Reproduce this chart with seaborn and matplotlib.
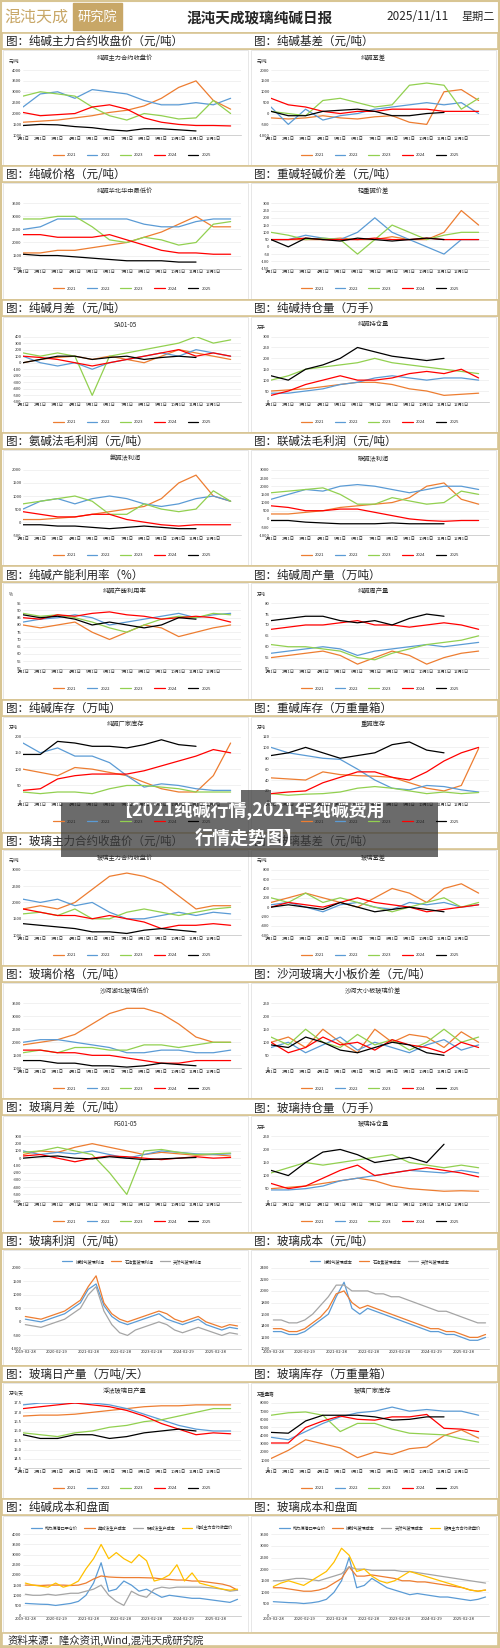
import numpy as np
import pandas as pd
import matplotlib
matplotlib.use("Agg")
import matplotlib.pyplot as plt
import seaborn as sns
from matplotlib.patches import Rectangle

sns.set_theme(style="white")
plt.rcParams['font.family'] = ['Noto Sans CJK SC', 'DejaVu Sans']
plt.rcParams['axes.unicode_minus'] = False

W, H = 500, 1648
fig = plt.figure(figsize=(W/100, H/100), dpi=100)
fig.patch.set_facecolor("white")
BEIGE = "#D8C593"
GOLD = "#C8A767"

YEARS = ["2021", "2022", "2023", "2024", "2025"]
YCOL = ["#ED7D31", "#5B9BD5", "#92D050", "#FF0000", "#000000"]
MONTHS = ["1月1日", "2月1日", "3月1日", "4月1日", "5月1日", "6月1日", "7月1日",
          "8月1日", "9月1日", "10月1日", "11月1日", "12月1日"]
DATE_TICKS = ["2019-02-28", "2020-02-29", "2021-02-28", "2022-02-28",
              "2023-02-28", "2024-02-29", "2025-02-28"]

# ---------------- data ----------------
sa_close = [[1600,1650,1700,1800,1900,2050,2150,2350,2700,3200,3500,2600,2200],
            [2300,2900,3000,2700,3100,3000,2900,2600,2400,2400,2500,2400,2700],
            [2800,3000,2900,2800,2300,1900,1700,2000,1900,1750,1800,2600,2000],
            [2050,1900,1950,2000,2300,2400,2200,1800,1600,1500,1450,1450,1430],
            [1450,1500,1480,1400,1350,1250,1200,1300,1300,1250,1200]]
sa_basis = [[-200,-250,-200,-100,-200,-250,-150,-100,-400,-500,1000,1100,600],
            [300,-500,200,-300,-100,0,200,300,400,500,400,500,0],
            [100,0,-100,600,700,500,300,400,1300,1400,1300,200,700],
            [700,400,300,100,0,100,100,200,200,200,100,100,100],
            [100,-100,-100,100,150,200,100,-100,-100,0,50]]
sa_spot = [[1600,1600,1700,1700,1800,1900,2000,2200,2400,2700,3000,2600,2600],
           [2500,2600,2900,2900,2900,2900,2900,2700,2600,2600,2800,2900,2900],
           [2900,2900,3000,3000,2600,2100,2000,2200,2100,1900,2000,2700,2800],
           [2300,2300,2200,2200,2200,2300,2100,1900,1700,1600,1600,1550,1550],
           [1550,1500,1500,1450,1400,1350,1300,1300,1300,1250,1250]]
sa_heavy_light = [[50,50,50,50,60,50,50,70,50,50,100,250,150],
                  [50,50,80,60,50,100,200,100,50,0,-50,50,50],
                  [100,80,50,60,50,-50,50,150,100,50,80,100,100],
                  [50,50,60,50,50,50,60,50,50,60,50,50,50],
                  [50,0,60,50,40,60,50,40,50,60,50]]
sa_spread = [[0,50,80,100,50,100,50,0,100,200,150,100,50],
             [100,0,-50,0,-100,0,50,100,150,100,200,150,100],
             [150,100,150,100,-500,100,150,200,250,300,400,300,350],
             [100,80,50,0,-50,0,50,100,150,200,100,150,100],
             [0,50,100,100,50,80,100,50,80,100,80]]
sa_oi = [[50,55,60,70,80,90,90,80,60,50,30,35,40],
         [40,40,50,60,80,90,110,120,110,100,110,110,100],
         [100,120,150,160,170,180,200,180,170,160,150,140,130],
         [30,50,80,100,120,100,100,110,130,140,130,150,110],
         [120,100,150,170,200,250,230,210,200,190,200]]
sa_ammonia_profit = [[100,100,150,200,300,400,500,600,900,1500,1800,1000,800],
                     [500,800,900,700,900,1000,900,700,600,700,900,1000,800],
                     [700,800,900,1000,800,300,300,700,500,400,500,1200,800],
                     [400,300,200,200,300,300,100,0,-100,-150,-100,-100,-100],
                     [-100,-100,-150,-150,-200,-250,-200,-150,-200,-250,-250]]
sa_joint_profit = [[300,300,400,500,700,800,900,1000,1300,2000,2200,1200,900],
                   [1200,1500,1800,1700,2000,2100,2000,1800,1600,1800,2000,2000,1800],
                   [1600,1700,1800,1900,1500,900,900,1300,1100,900,1000,1700,1500],
                   [800,700,500,500,600,600,400,200,0,-100,-150,-100,-100],
                   [-100,-100,-200,-250,-300,-300,-300,-250,-300,-300,-300]]
sa_util = [[80,78,80,82,75,70,75,80,78,72,75,78,80],
           [82,84,85,87,85,80,82,84,86,88,85,87,88],
           [88,86,87,85,82,78,75,80,84,86,85,88,87],
           [85,84,87,86,88,89,87,86,84,85,86,85,82],
           [87,85,86,84,80,82,80,78,80,85,84]]
sa_output = [[55,56,57,58,56,52,55,58,56,52,55,57,58],
             [57,58,59,60,59,56,58,59,60,61,60,61,62],
             [61,60,60,59,58,55,54,57,59,61,62,63,65],
             [68,69,70,70,71,72,70,70,69,70,71,70,68],
             [72,73,74,74,72,71,72,70,73,75,74]]
sa_stock = [[100,90,80,105,100,90,80,60,40,30,30,80,180],
            [180,150,165,140,140,120,80,45,55,50,40,35,35],
            [30,25,30,30,25,40,50,50,45,40,30,30,30],
            [35,40,70,80,85,85,85,95,110,125,140,160,150],
            [145,145,185,180,170,170,165,175,190,175,170]]
sa_heavy_stock = [[44,42,40,55,50,48,47,45,35,25,20,30,98],
                  [100,90,85,80,78,60,40,25,22,30,28,22,18],
                  [15,12,14,15,18,25,28,25,20,15,18,15,17],
                  [15,18,20,35,45,55,55,45,40,55,75,90,100],
                  [85,90,100,90,80,85,90,105,110,95,90]]
fg_close = [[1800,1900,1800,2000,2400,2800,2900,2800,2600,2200,1800,1900,1900],
            [2100,2000,2100,1900,2000,1700,1500,1500,1600,1700,1600,1700,1650],
            [1650,1700,1600,1800,1500,1500,1700,1800,1700,1600,1700,1800,1850],
            [1800,1700,1600,1600,1500,1600,1500,1400,1200,1300,1300,1350,1300],
            [1350,1300,1250,1200,1100,1100,1050,1150,1200,1150,1100]]
fg_basis = [[100,200,300,200,100,0,200,400,300,100,400,500,300],
            [50,100,0,-100,50,100,0,-50,100,50,100,0,50],
            [200,100,300,100,200,100,0,-100,0,100,200,0,100],
            [0,100,50,0,100,200,100,50,0,-100,-50,0,50],
            [0,50,0,-50,100,0,-100,-50,0,-50,-100]]
fg_spot = [[1900,2000,2100,2300,2700,3100,3300,3300,3100,2700,2200,2000,2000],
           [2000,2100,2100,2000,1900,1800,1600,1600,1700,1700,1600,1600,1700],
           [1600,1700,1600,1800,1800,1700,1700,1900,1900,1800,1900,2000,2000],
           [1700,1700,1600,1600,1500,1500,1400,1300,1200,1200,1300,1300,1300],
           [1300,1300,1200,1200,1100,1100,1050,1100,1200,1150,1100]]
fg_board = [[100,120,80,150,100,60,150,100,130,120,80,140,100],
            [80,100,60,90,120,70,100,80,60,90,110,70,90],
            [120,90,150,100,80,130,90,110,70,100,150,100,120],
            [100,60,80,120,90,100,70,110,90,80,60,100,80],
            [90,80,120,100,70,60,80,100,90,60,50]]
fg_spread = [[50,100,80,150,200,150,100,50,80,60,40,50,30],
             [100,50,80,60,100,50,0,50,100,80,60,50,60],
             [80,100,150,100,50,-200,-500,100,120,80,50,60,70],
             [30,50,0,-50,0,30,20,0,-20,0,20,0,10],
             [0,20,30,0,-10,20,0,-20,-10,0,10]]
fg_oi = [[50,55,60,70,80,90,80,60,50,45,40,42,40],
         [45,45,50,60,80,90,100,110,120,115,110,120,110],
         [110,130,150,140,150,160,170,180,150,140,130,140,130],
         [70,50,60,90,120,140,100,110,120,130,120,110,95],
         [120,100,150,190,200,180,150,160,170,150,220]]
fg_daily = [[16.8,16.85,16.85,16.9,17.0,17.1,17.2,17.3,17.35,17.35,17.4,17.4,17.4],
            [17.4,17.5,17.5,17.5,17.5,17.4,17.2,16.9,16.6,16.3,16.1,16.0,16.0],
            [15.9,15.8,15.7,15.9,16.0,16.2,16.3,16.5,16.6,16.8,17.0,17.2,17.2],
            [17.2,17.3,17.4,17.5,17.4,17.3,17.1,16.8,16.4,16.1,15.8,15.9,15.85],
            [15.8,15.6,15.6,15.8,15.8,15.6,15.7,15.9,16.0,16.1,16.0]]
fg_stock = [[1200,2200,3500,3000,2500,1300,2000,1700,2400,2600,4000,4700,3700],
            [3800,3500,4500,5500,6300,6800,7000,7500,7000,7200,7000,7000,6500],
            [6500,6800,6900,6500,4500,5500,5500,4800,4300,4200,4100,3600,3200],
            [3100,3100,5000,5800,6400,6000,5900,6300,6300,6600,4900,4800,4500],
            [4400,4300,5800,6500,6500,6500,6300,5900,6000,6300,6300]]

profit_names = ["煤制气玻璃利润", "石油焦玻璃利润", "天然气玻璃利润"]
fg_profit = [[100,50,0,100,200,300,500,700,1200,1400,600,200,0,-100,0,100,200,300,100,0,-100,0,100,-100,-200,-300,-200,-250],
             [200,150,100,200,300,400,600,800,1300,1700,700,300,100,0,100,200,300,400,300,100,0,100,200,0,-100,-200,-100,-150],
             [-100,-150,-200,-100,0,100,300,500,1000,1300,400,-100,-400,-500,-300,-200,-100,0,-100,-300,-400,-300,-200,-300,-400,-500,-400,-450]]
cost_names = ["煤制气玻璃成本", "石油焦玻璃成本", "天然气玻璃成本"]
fg_cost = [[1300,1300,1250,1250,1300,1400,1500,1600,1900,2150,1700,1600,1700,1650,1600,1550,1500,1450,1400,1350,1300,1300,1250,1250,1200,1150,1150,1200],
           [1350,1350,1300,1300,1350,1450,1550,1700,1950,2000,1800,1700,1750,1700,1650,1600,1550,1500,1450,1400,1350,1350,1300,1300,1250,1200,1200,1250],
           [1500,1500,1450,1450,1500,1600,1750,1900,2100,2100,2000,2000,2000,1950,1950,1900,1900,1850,1800,1750,1700,1650,1650,1600,1550,1500,1450,1450]]
TRI = ["#5B9BD5", "#ED7D31", "#A5A5A5"]
QUAD = ["#5B9BD5", "#ED7D31", "#A5A5A5", "#FFC000"]
sa_cost_names = ["动力煤港口平仓价", "氨碱法生产成本", "联碱法生产成本", "纯碱主力合约收盘价"]
sa_cost = [[600,580,560,550,500,550,600,700,1000,1600,2600,1200,1300,1700,1500,1200,1300,1100,900,1000,950,900,850,850,800,750,700,650,800],
           [1500,1500,1480,1500,1500,1500,1480,1500,1600,1800,1950,1900,1880,1870,1870,1870,1860,1850,1800,1780,1750,1750,1700,1700,1650,1600,1550,1450,1250],
           [1050,1000,1000,1050,1000,1050,1100,1100,1200,1300,1500,1000,700,500,1200,1000,900,1300,1400,1350,1400,1400,1400,1400,1380,1350,1300,1200,1250],
           [1600,1500,1450,1400,1600,1400,1500,1700,2300,2800,3500,2800,3100,2800,2600,3000,2700,1700,1800,2000,2500,1700,2100,1600,1500,1400,1300,1250,1300]]
fg_cost_names = ["动力煤港口平仓价", "煤制气玻璃成本", "天然气玻璃成本", "玻璃主力合约收盘价"]
fg_cost2 = [[600,580,560,550,520,550,600,700,1000,1500,2500,1200,1300,1600,1400,1200,1100,1000,900,950,900,850,800,800,750,700,650,700,800],
            [1200,1200,1150,1100,1050,1050,1100,1200,1400,1600,2100,1700,1700,1750,1700,1650,1600,1500,1500,1450,1450,1400,1350,1300,1250,1200,1100,1050,1100],
            [1500,1500,1550,1600,1600,1550,1500,1600,1700,1800,2100,2000,2000,1950,1950,1950,1950,1900,1900,1850,1800,1750,1700,1650,1600,1550,1500,1450,1400],
            [1250,1400,1500,1400,1300,1500,1700,1900,2300,2900,2600,1900,2000,1700,1500,1400,1500,1700,1900,1800,1700,1600,1500,1400,1300,1200,1100,1050,1100]]

panels = [
    ("图：纯碱主力合约收盘价（元/吨）", "纯碱主力合约收盘价", "元/吨", sa_close, (1000, 4000), range(1000, 4001, 500)),
    ("图：纯碱基差（元/吨）", "纯碱基差", "元/吨", sa_basis, (-1000, 2000), range(-1000, 2001, 500)),
    ("图：纯碱价格（元/吨）", "纯碱华北华中最低价", "", sa_spot, (1000, 3500), range(1000, 3501, 500)),
    ("图：重碱轻碱价差（元/吨）", "轻重碱价差", "", sa_heavy_light, (-150, 300), range(-150, 301, 50)),
    ("图：纯碱月差（元/吨）", "SA01-05", "", sa_spread, (-600, 400), range(-600, 401, 100)),
    ("图：纯碱持仓量（万手）", "纯碱持仓量", "万手", sa_oi, (0, 300), range(0, 301, 50)),
    ("图：氨碱法毛利润（元/吨）", "氨碱法利润", "", sa_ammonia_profit, (-500, 2000), range(-500, 2001, 500)),
    ("图：联碱法毛利润（元/吨）", "联碱法利润", "", sa_joint_profit, (-1000, 3000), range(-1000, 3001, 500)),
    ("图：纯碱产能利用率（%）", "纯碱产能利用率", "%", sa_util, (50, 95), range(50, 96, 5)),
    ("图：纯碱周产量（万吨）", "纯碱周产量", "万吨", sa_output, (50, 80), range(50, 81, 5)),
    ("图：纯碱库存（万吨）", "纯碱厂家库存", "万吨", sa_stock, (0, 200), range(0, 201, 50)),
    ("图：重碱库存（万重量箱）", "重碱库存", "万吨", sa_heavy_stock, (0, 120), range(0, 121, 20)),
    ("图：玻璃主力合约收盘价（元/吨）", "玻璃主力合约收盘价", "元/吨", fg_close, (1000, 3000), range(1000, 3001, 500)),
    ("图：玻璃基差（元/吨）", "玻璃基差", "元/吨", fg_basis, (-600, 800), range(-600, 801, 200)),
    ("图：玻璃价格（元/吨）", "沙河湖北玻璃低价", "", fg_spot, (1000, 3500), range(1000, 3501, 500)),
    ("图：沙河玻璃大小板价差（元/吨）", "沙河大小板玻璃价差", "", fg_board, (0, 250), range(0, 251, 50)),
    ("图：玻璃月差（元/吨）", "FG01-05", "", fg_spread, (-600, 300), range(-600, 301, 100)),
    ("图：玻璃持仓量（万手）", "玻璃持仓量", "万手", fg_oi, (0, 250), range(0, 251, 50)),
    ("图：玻璃利润（元/吨）", None, "", (profit_names, fg_profit, TRI), (-1000, 2000), range(-1000, 2001, 500)),
    ("图：玻璃成本（元/吨）", None, "", (cost_names, fg_cost, TRI), (1000, 2400), range(1000, 2401, 200)),
    ("图：玻璃日产量（万吨/天）", "浮法玻璃日产量", "万吨/天", fg_daily, (14, 17.5), [14, 14.5, 15, 15.5, 16, 16.5, 17, 17.5]),
    ("图：玻璃库存（万重量箱）", "玻璃厂家库存", "万重量箱", fg_stock, (0, 8000), range(0, 8001, 1000)),
    ("图：纯碱成本和盘面", None, "", (sa_cost_names, sa_cost, QUAD), (0, 4000), range(0, 4001, 500)),
    ("图：玻璃成本和盘面", None, "", (fg_cost_names, fg_cost2, QUAD), (0, 3500), range(0, 3501, 500)),
]

def fr(x, y, w, h):
    return [x / W, 1 - (y + h) / H, w / W, h / H]

bg = fig.add_axes([0, 0, 1, 1])
bg.set_xlim(0, W); bg.set_ylim(H, 0); bg.axis("off")
bg.add_patch(Rectangle((1, 1), W - 2, H - 2, fill=False, ec=BEIGE, lw=1.5))

bg.text(4, 17, "混沌天成", fontsize=11.5, color=GOLD, va="center")
bg.add_patch(Rectangle((73, 3), 49, 27, color=GOLD))
bg.text(97.5, 17, "研究院", fontsize=9.5, color="white", va="center", ha="center")
bg.text(260, 18, "混沌天成玻璃纯碱日报", fontsize=10.5, fontweight="bold", ha="center", va="center")
bg.text(418, 16, "2025/11/11", fontsize=8.5, ha="center", va="center")
bg.text(478, 17, "星期二", fontsize=8, ha="center", va="center")

PITCH = 133.3
TOP0 = 33
BAR = 16

for i, (bar_t, ctitle, unit, data, ylim, yt) in enumerate(panels):
    row, col = divmod(i, 2)
    ty = TOP0 + row * PITCH
    x0 = 3 if col == 0 else 251
    bg.add_patch(Rectangle((2, ty), W - 4, BAR, fc="white", ec=BEIGE, lw=1.2))
    bg.text(x0 + 3, ty + BAR / 2 + 0.5, bar_t, fontsize=8.3, va="center", color="#222222")
    py0 = ty + BAR + 1
    ph = PITCH - BAR - 2
    bg.add_patch(Rectangle((x0, py0), 245, ph, fill=False, ec="#E3E3E3", lw=0.6))
    if ctitle is not None:
        bg.text(x0 + 122, py0 + 8, ctitle, fontsize=4.5, ha="center", va="center")
        if unit:
            bg.text(x0 + 6, py0 + 11, unit, fontsize=3.2, va="center")
        ax = fig.add_axes(fr(x0 + 20, py0 + 20, 218, ph - 50))
        for k, (yr, c) in enumerate(zip(YEARS, YCOL)):
            v = data[k]
            sns.lineplot(x=np.arange(len(v)), y=v, ax=ax, color=c, lw=0.9, label=yr)
        ax.set_xlim(0, 12.6)
        ax.set_xticks(range(12))
        ax.set_xticklabels(MONTHS, fontsize=3.0)
        ax.legend(ncol=5, fontsize=3.0, frameon=False, loc="upper center",
                  bbox_to_anchor=(0.5, -0.22), handlelength=2.5, columnspacing=2.5)
    else:
        names, vals, cols = data
        ax = fig.add_axes(fr(x0 + 20, py0 + 18, 218, ph - 34))
        for n, v, c in zip(names, vals, cols):
            xd = pd.date_range("2019-02-28", "2025-11-10", periods=len(v))
            sns.lineplot(x=xd, y=v, ax=ax, color=c, lw=0.9, label=n)
        ax.set_xticks(pd.to_datetime(DATE_TICKS))
        ax.set_xticklabels(DATE_TICKS, fontsize=3.0)
        ax.set_xlim(pd.Timestamp("2019-02-01"), pd.Timestamp("2025-12-20"))
        ax.legend(ncol=len(names), fontsize=3.0, frameon=False, loc="lower center",
                  bbox_to_anchor=(0.5, 1.0), handlelength=2.5, columnspacing=1.5)
    ax.set_ylim(*ylim)
    ax.set_yticks(list(yt))
    ax.tick_params(axis="y", labelsize=3.0, length=0, pad=1)
    ax.tick_params(axis="x", length=0, pad=1)
    ax.set_xlabel(""); ax.set_ylabel("")
    ax.grid(axis="y", color="#E6E6E6", lw=0.4)
    for s in ["top", "right", "left"]:
        ax.spines[s].set_visible(False)
    ax.spines["bottom"].set_color("#BFBFBF"); ax.spines["bottom"].set_linewidth(0.5)

fy = TOP0 + 12 * PITCH
bg.add_patch(Rectangle((2, fy), W - 4, H - fy - 2, fc="white", ec=BEIGE, lw=1.2))
bg.text(8, fy + 7.5, "资料来源：隆众资讯,Wind,混沌天成研究院", fontsize=7.5, va="center", style="italic")

bg.add_patch(Rectangle((61, 790), 377, 67, fc="#3a3a3a", alpha=0.75, ec="none", zorder=5))
bg.text(249, 810, "【2021纯碱行情,2021年纯碱费用", fontsize=13, color="white", ha="center", va="center", fontweight="bold", zorder=6)
bg.text(249, 838, "行情走势图】", fontsize=13, color="white", ha="center", va="center", fontweight="bold", zorder=6)

fig.savefig("out.png", dpi=100)
